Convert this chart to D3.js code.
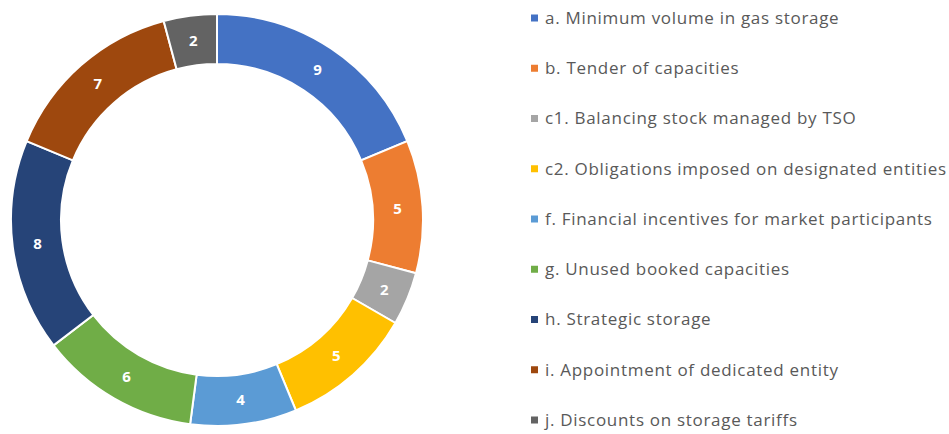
<!DOCTYPE html>
<html>
<head>
<meta charset="utf-8">
<script src="https://cdn.jsdelivr.net/npm/d3@7"></script>
<style>
  body { margin: 0; background: #fff; }
  text { font-family: "Open Sans", sans-serif; }
</style>
</head>
<body>
<svg id="chart" width="949" height="434"></svg>
<script>
// Data
const categories = [
    "a. Minimum volume in gas storage",
    "b. Tender of capacities",
    "c1. Balancing stock managed by TSO",
    "c2. Obligations imposed on designated entities",
    "f. Financial incentives for market participants",
    "g. Unused booked capacities",
    "h. Strategic storage",
    "i. Appointment of dedicated entity",
    "j. Discounts on storage tariffs"
];
const values = [9, 5, 2, 5, 4, 6, 8, 7, 2];
const colors = ["#4472c4", "#ed7d31", "#a5a5a5", "#ffc000", "#5b9bd5", "#70ad47", "#264478", "#9e480e", "#636363"];

const svg = d3.select("#chart");
const cx = 217, cy = 220;
const outerR = 206, innerR = 156;

const pie = d3.pie().sort(null).value((d) => d.value);
const arc = d3.arc().innerRadius(innerR).outerRadius(outerR);

const data = categories.map((c, i) => ({ name: c, value: values[i], color: colors[i] }));

const g = svg.append("g").attr("transform", `translate(${cx},${cy})`);

const slices = g.selectAll("g.slice").data(pie(data)).enter().append("g").attr("class", "slice");

slices.append("path")
    .attr("d", arc)
    .attr("fill", (d) => d.data.color)
    .attr("stroke", "white")
    .attr("stroke-width", 2);

slices.append("text")
    .attr("transform", (d) => `translate(${arc.centroid(d)})`)
    .attr("text-anchor", "middle")
    .attr("dy", "0.36em")
    .attr("fill", "white")
    .attr("font-size", 15)
    .attr("font-weight", "bold")
    .text((d) => d.data.value);

// Legend
const legendY = d3.scalePoint().domain(categories).range([18, 420]);
const legend = svg.append("g");
const items = legend.selectAll("g").data(data).enter().append("g")
    .attr("transform", (d) => `translate(531,${legendY(d.name)})`);

items.append("rect")
    .attr("x", 0).attr("y", -3.5)
    .attr("width", 7).attr("height", 7)
    .attr("fill", (d) => d.color);

items.append("text")
    .attr("x", 14)
    .attr("dy", "0.35em")
    .attr("fill", "#595959")
    .attr("font-size", 17)
    .attr("letter-spacing", 0.7)
    .text((d) => d.name);
</script>
</body>
</html>
